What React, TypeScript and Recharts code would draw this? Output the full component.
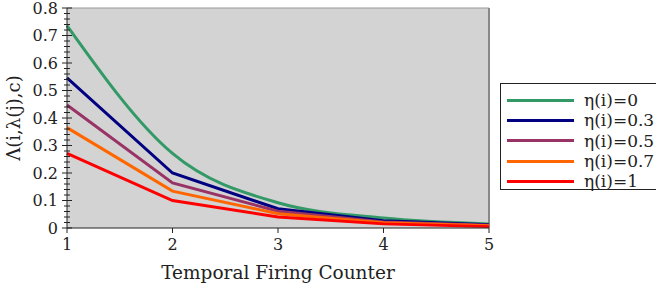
import React from 'react';
import { LineChart, Line, XAxis, YAxis, CartesianGrid, ReferenceLine } from 'recharts';

// Temporal firing counter on the x axis
const counters = [1, 2, 3, 4, 5];

// Λ(i,λ(j),c) for each η(i)
const eta0 = [0.736, 0.271, 0.092, 0.036, 0.015];
const eta03 = [0.546, 0.2, 0.07, 0.026, 0.012];
const eta05 = [0.447, 0.164, 0.061, 0.022, 0.01];
const eta07 = [0.365, 0.134, 0.052, 0.019, 0.008];
const eta1 = [0.271, 0.1, 0.04, 0.015, 0.005];

const xTicks = [1, 2, 3, 4, 5];
const yTicks = [0, 0.02, 0.04, 0.06, 0.08, 0.1, 0.12, 0.14, 0.16, 0.18, 0.2, 0.22, 0.24, 0.26, 0.28, 0.3,
    0.32, 0.34, 0.36, 0.38, 0.4, 0.42, 0.44, 0.46, 0.48, 0.5, 0.52, 0.54, 0.56, 0.58, 0.6,
    0.62, 0.64, 0.66, 0.68, 0.7, 0.72, 0.74, 0.76, 0.78, 0.8];

const series = [
    { key: 'eta0', name: 'η(i)=0', values: eta0, color: '#339966', curve: 'monotone' },
    { key: 'eta03', name: 'η(i)=0.3', values: eta03, color: '#000080', curve: 'linear' },
    { key: 'eta05', name: 'η(i)=0.5', values: eta05, color: '#993366', curve: 'linear' },
    { key: 'eta07', name: 'η(i)=0.7', values: eta07, color: '#ff6600', curve: 'linear' },
    { key: 'eta1', name: 'η(i)=1', values: eta1, color: '#ff0000', curve: 'linear' },
];

const data = counters.map((c, i) => {
    const row: any = { c };
    series.forEach((s) => { row[s.key] = s.values[i]; });
    return row;
});

const FONT = '"DejaVu Serif", serif';
const INK = '#222';

const YTick = (props: any) => {
    const { x, y, payload } = props;
    const v = payload.value;
    const major = Math.abs(Math.round(v * 10) - v * 10) < 1e-6;
    const half = major ? 5 : 3;
    return (
        <g>
            <line x1={x - half} x2={x + half} y1={y} y2={y} stroke={INK} strokeWidth={1} />
            {major && (
                <text x={x - 9} y={y} dy={5.5} textAnchor="end" fontFamily={FONT} fontSize={16} fill={INK}>
                    {v === 0 ? '0' : v.toFixed(1)}
                </text>
            )}
        </g>
    );
};

const XTick = (props: any) => {
    const { x, y, payload } = props;
    return (
        <g>
            <line x1={x} x2={x} y1={y} y2={y + 5} stroke={INK} strokeWidth={1} />
            <text x={x} y={y + 22} textAnchor="middle" fontFamily={FONT} fontSize={16} fill={INK}>
                {payload.value}
            </text>
        </g>
    );
};

export default function App() {
    return (
        <div style={{ position: 'absolute', left: 0, top: 0, width: 656, height: 291, background: '#fff' }}>
            <LineChart width={656} height={291} data={data} margin={{ top: 8, right: 167, left: 0, bottom: 0 }}>
                <CartesianGrid fill="#d3d3d3" horizontal={false} vertical={false} />
                <XAxis
                    dataKey="c"
                    type="number"
                    domain={[1, 5]}
                    ticks={xTicks}
                    height={63}
                    tickSize={0}
                    tickMargin={0}
                    tickLine={false}
                    tick={XTick}
                    axisLine={{ stroke: INK }}
                    label={{ value: 'Temporal Firing Counter', position: 'insideBottom', offset: 12, fontFamily: FONT, fontSize: 18.5, fill: INK }}
                />
                <YAxis
                    type="number"
                    domain={[0, 0.8]}
                    ticks={yTicks}
                    width={67}
                    interval={0}
                    tickSize={0}
                    tickMargin={0}
                    tickLine={false}
                    tick={YTick}
                    axisLine={{ stroke: INK }}
                    label={{ value: 'Λ(i,λ(j),c)', angle: -90, position: 'insideLeft', offset: 14, fontFamily: FONT, fontSize: 18, fill: INK, style: { textAnchor: 'middle' } }}
                />
                <ReferenceLine y={0.8} stroke="#999" strokeWidth={1} />
                <ReferenceLine x={5} stroke="#888" strokeWidth={2} />
                {series.map((s) => (
                    <Line
                        key={s.key}
                        dataKey={s.key}
                        name={s.name}
                        type={s.curve as any}
                        stroke={s.color}
                        strokeWidth={3}
                        dot={false}
                        activeDot={false}
                        isAnimationActive={false}
                    />
                ))}
            </LineChart>
            <div
                style={{
                    position: 'absolute',
                    left: 500,
                    top: 83,
                    width: 160,
                    height: 107,
                    border: '1px solid #222',
                    boxSizing: 'border-box',
                    background: '#fff',
                    fontFamily: FONT,
                    fontSize: 17,
                    color: INK,
                    paddingTop: 6,
                }}
            >
                {series.map((s) => (
                    <div key={s.key} style={{ display: 'flex', alignItems: 'center', height: 20.3 }}>
                        <div style={{ marginLeft: 6, width: 67, height: 3, background: s.color }} />
                        <span style={{ marginLeft: 10, whiteSpace: 'nowrap' }}>{s.name}</span>
                    </div>
                ))}
            </div>
        </div>
    );
}
